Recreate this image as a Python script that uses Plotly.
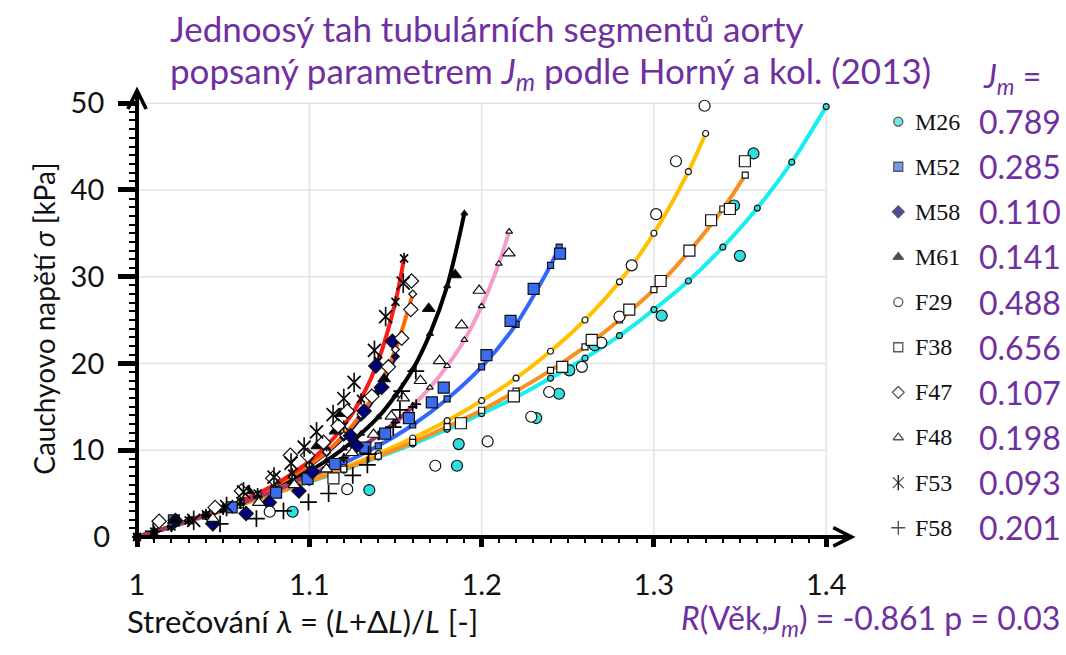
import plotly.graph_objects as go

W, H = 1066, 655
PURPLE = "#7030A0"
SANS = "Lato, 'Open Sans', sans-serif"
SERIF = "'Liberation Serif', 'DejaVu Serif', serif"

# frame of the stress-stretch plot, in page pixels
FX0, FX1 = 130, 854      # left edge (lambda = 1) and arrow tip of the x axis
FY0, FY1 = 550, 87       # y = 0 and arrow tip of the y axis
PX_PER_LAM = 1736.0
PX_PER_KPA = 8.92
LAM_RANGE = [1.0, 1.0 + (FX1 - FX0) / PX_PER_LAM]
SIG_RANGE = [0.0, (FY0 - FY1) / PX_PER_KPA]

x_ticks = [1.0, 1.1, 1.2, 1.3, 1.4]
x_tick_text = ["1", "1.1", "1.2", "1.3", "1.4"]
y_ticks = [10, 20, 30, 40, 50]
x_minor = [round(1.0 + 0.01 * i, 2) for i in range(1, 42) if i % 10]
y_minor = [v for v in range(1, 51) if v % 10]

names = ["M26", "M52", "M58", "M61", "F29", "F38", "F47", "F48", "F53", "F58"]
jm_text = ["0.789", "0.285", "0.110", "0.141", "0.488", "0.656", "0.107", "0.198", "0.093", "0.201"]

# fitted (Gent) curves: stretch grid and Cauchy stress [kPa]
fit_lam = {
    "M26": [1.00, 1.02, 1.04, 1.06, 1.08, 1.10, 1.12, 1.14, 1.16, 1.18, 1.20, 1.22, 1.24, 1.26, 1.28, 1.30, 1.32, 1.34, 1.36, 1.38, 1.40],
    "M52": [1.00, 1.02, 1.04, 1.06, 1.08, 1.10, 1.12, 1.14, 1.16, 1.18, 1.20, 1.22, 1.24, 1.245],
    "M58": [1.00, 1.01, 1.02, 1.03, 1.04, 1.05, 1.06, 1.07, 1.08, 1.09, 1.10, 1.11, 1.12, 1.13, 1.14, 1.15],
    "M61": [1.00, 1.01, 1.02, 1.03, 1.04, 1.05, 1.06, 1.07, 1.08, 1.09, 1.10, 1.11, 1.12, 1.13, 1.14, 1.15, 1.16, 1.17, 1.18, 1.19],
    "F29": [1.00, 1.02, 1.04, 1.06, 1.08, 1.10, 1.12, 1.14, 1.16, 1.18, 1.20, 1.22, 1.24, 1.26, 1.28, 1.30, 1.32, 1.33],
    "F38": [1.00, 1.02, 1.04, 1.06, 1.08, 1.10, 1.12, 1.14, 1.16, 1.18, 1.20, 1.22, 1.24, 1.26, 1.28, 1.30, 1.32, 1.34, 1.353],
    "F47": [1.00, 1.01, 1.02, 1.03, 1.04, 1.05, 1.06, 1.07, 1.08, 1.09, 1.10, 1.11, 1.12, 1.13, 1.14, 1.15, 1.16],
    "F48": [1.00, 1.01, 1.02, 1.03, 1.04, 1.05, 1.06, 1.07, 1.08, 1.09, 1.10, 1.11, 1.12, 1.13, 1.14, 1.15, 1.16, 1.17, 1.18, 1.19, 1.20, 1.21, 1.216],
    "F53": [1.00, 1.01, 1.02, 1.03, 1.04, 1.05, 1.06, 1.07, 1.08, 1.09, 1.10, 1.11, 1.12, 1.13, 1.14, 1.15, 1.155],
    "F58": [1.00, 1.01, 1.02, 1.03, 1.04, 1.05, 1.06, 1.07, 1.08, 1.09, 1.10, 1.11, 1.12, 1.13, 1.14, 1.15, 1.16, 1.162],
}
fit_sig = {
    "M26": [0, 1.2, 2.4, 3.7, 5.0, 6.3, 7.7, 9.2, 10.7, 12.4, 14.2, 16.1, 18.3, 20.6, 23.2, 26.2, 29.5, 33.4, 37.9, 43.2, 49.6],
    "M52": [0, 1.2, 2.5, 3.8, 5.2, 6.7, 8.5, 10.5, 12.9, 15.9, 19.6, 24.5, 31.3, 33.4],
    "M58": [0, 0.6, 1.2, 1.9, 2.5, 3.2, 4.0, 4.9, 5.8, 6.9, 8.2, 9.7, 11.5, 13.8, 16.8, 20.8],
    "M61": [0, 0.6, 1.2, 1.9, 2.5, 3.2, 3.9, 4.7, 5.6, 6.5, 7.6, 8.8, 10.2, 11.9, 13.8, 16.3, 19.3, 23.4, 28.9, 37.3],
    "F29": [0, 1.2, 2.4, 3.7, 5.0, 6.5, 8.0, 9.6, 11.4, 13.4, 15.7, 18.3, 21.4, 25.0, 29.4, 35.0, 42.1, 46.5],
    "F38": [0, 1.2, 2.4, 3.7, 5.0, 6.4, 7.8, 9.3, 10.9, 12.7, 14.6, 16.8, 19.2, 21.9, 25.0, 28.5, 32.8, 37.8, 41.7],
    "F47": [0, 0.6, 1.2, 1.9, 2.5, 3.3, 4.0, 4.9, 5.9, 7.0, 8.3, 9.8, 11.7, 14.1, 17.2, 21.6, 28.0],
    "F48": [0, 0.6, 1.2, 1.8, 2.5, 3.1, 3.8, 4.6, 5.4, 6.2, 7.1, 8.1, 9.2, 10.4, 11.7, 13.3, 15.1, 17.2, 19.7, 22.7, 26.6, 31.5, 35.2],
    "F53": [0, 0.6, 1.2, 1.9, 2.6, 3.3, 4.1, 5.0, 6.0, 7.3, 8.7, 10.5, 12.8, 15.9, 20.3, 27.1, 32.1],
    "F58": [0, 0.6, 1.2, 1.8, 2.5, 3.1, 3.8, 4.6, 5.3, 6.2, 7.1, 8.0, 9.1, 10.3, 11.7, 13.2, 15.0, 15.3],
}

# measured points
exp_lam = {
    "M26": [1.0903, 1.1348, 1.1857, 1.1867, 1.2317, 1.2449, 1.2509, 1.2656, 1.3045, 1.3499, 1.3465, 1.3578],
    "M52": [1.0214, 1.0549, 1.0807, 1.0990, 1.1148, 1.1325, 1.1440, 1.1578, 1.1711, 1.1780, 1.2028, 1.2168, 1.2302, 1.2455],
    "M58": [1.0223, 1.0440, 1.0633, 1.0767, 1.0940, 1.1018, 1.1239, 1.1273, 1.1318, 1.1420, 1.1386, 1.1482],
    "M61": [1.0220, 1.0645, 1.1047, 1.1152, 1.1183, 1.1434, 1.1693, 1.1846],
    "F29": [1.0770, 1.1220, 1.1731, 1.2035, 1.2288, 1.2392, 1.2582, 1.2695, 1.2800, 1.2871, 1.3013, 1.3128, 1.3294],
    "F38": [1.1140, 1.1880, 1.2187, 1.2468, 1.2639, 1.2857, 1.3039, 1.3206, 1.3332, 1.3441, 1.3528],
    "F47": [1.0128, 1.0453, 1.0606, 1.0788, 1.0890, 1.0990, 1.1082, 1.1167, 1.1220, 1.1363, 1.1459, 1.1536, 1.1589, 1.1593],
    "F48": [1.0440, 1.0707, 1.0913, 1.1099, 1.1248, 1.1373, 1.1476, 1.1545, 1.1645, 1.1756, 1.1884, 1.1986, 1.2158],
    "F53": [1.0329, 1.0520, 1.0618, 1.0795, 1.0894, 1.0970, 1.1042, 1.1138, 1.1200, 1.1260, 1.1378, 1.1443, 1.1545],
    "F58": [1.0094, 1.0482, 1.0693, 1.0850, 1.0995, 1.1112, 1.1252, 1.1337, 1.1344, 1.1487, 1.1526, 1.1536, 1.1618],
}
exp_sig = {
    "M26": [2.9, 5.4, 8.2, 10.7, 13.7, 16.5, 19.2, 22.1, 25.5, 32.4, 38.2, 44.2],
    "M52": [1.9, 3.4, 5.1, 6.7, 8.4, 10.3, 11.9, 13.7, 15.5, 17.2, 20.95, 24.9, 28.6, 32.65],
    "M58": [1.9, 1.5, 2.7, 3.95, 5.3, 7.5, 11.65, 10.5, 14.5, 17.25, 19.7, 22.55],
    "M61": [1.9, 5.3, 10.5, 12.2, 14.2, 18.2, 26.3, 30.2],
    "F29": [2.9, 5.5, 8.2, 11.0, 13.85, 16.7, 19.6, 22.4, 25.4, 31.3, 37.2, 43.3, 49.7],
    "F38": [6.75, 13.1, 16.2, 19.6, 22.7, 26.2, 29.5, 33.0, 36.5, 37.8, 43.3],
    "F47": [1.8, 3.4, 5.3, 6.75, 9.4, 9.4, 10.9, 12.8, 14.5, 16.2, 19.6, 22.9, 26.2, 29.5],
    "F48": [2.1, 3.95, 6.0, 7.8, 9.7, 11.8, 13.9, 16.0, 18.0, 20.3, 24.4, 28.4, 32.7],
    "F53": [1.9, 3.5, 5.2, 6.9, 8.5, 10.35, 12.1, 14.1, 15.95, 17.8, 21.5, 25.4, 29.25],
    "F58": [0.65, 1.5, 2.1, 3.0, 4.0, 5.0, 7.1, 8.3, 9.55, 12.65, 14.65, 16.8, 19.1],
}

curve_color = {
    "M26": "#18EEEE", "M52": "#3366FF", "M58": "#000080", "M61": "#000000",
    "F29": "#FFC000", "F38": "#F7901E", "F47": "#FF6A00", "F48": "#F79BCB",
    "F53": "#FF1A1A", "F58": "#A0386E",
}
symbol = {
    "M26": "circle", "M52": "square", "M58": "diamond", "M61": "triangle-up",
    "F29": "circle", "F38": "square", "F47": "diamond", "F48": "triangle-up",
    "F53": "x-thin-open", "F58": "cross-thin-open",
}
fill = {
    "M26": "#33DDDD", "M52": "#3A6CF0", "M58": "#00007A", "M61": "#000000",
    "F29": "#FFFFFF", "F38": "#FFFFFF", "F47": "#FFFFFF", "F48": "#FFFFFF",
    "F53": "#000000", "F58": "#000000",
}
# thin symbols are drawn a little larger than the filled ones
size_boost = {"F53": 2, "F58": 1}


def marker_style(name, size):
    thin = symbol[name].endswith("-open")
    return dict(symbol=symbol[name], size=size + size_boost.get(name, 0), color=fill[name],
                line=dict(color="#111111", width=1.7 if thin else 1.2))


fig = go.Figure()

# fitted curves
for n in names:
    fig.add_trace(go.Scatter(
        x=fit_lam[n], y=fit_sig[n], mode="lines", name=n, showlegend=False,
        line=dict(color=curve_color[n], width=4, shape="spline", smoothing=0.8),
        cliponaxis=False, hoverinfo="skip"))

# model points on the curves (small markers)
for n in names:
    fig.add_trace(go.Scatter(
        x=fit_lam[n], y=fit_sig[n], mode="markers", showlegend=False,
        marker=marker_style(n, 6), cliponaxis=False, hoverinfo="skip"))
    if n == "F53":
        fig.add_trace(go.Scatter(
            x=fit_lam[n], y=fit_sig[n], mode="markers", showlegend=False,
            marker=dict(symbol="line-ns-open", size=8, color="#111111",
                        line=dict(color="#111111", width=1.7)),
            cliponaxis=False, hoverinfo="skip"))

# measured points (large markers)
for n in names:
    fig.add_trace(go.Scatter(
        x=exp_lam[n], y=exp_sig[n], mode="markers", name=n, showlegend=False,
        marker=marker_style(n, 11), cliponaxis=False))
    if n == "F53":
        fig.add_trace(go.Scatter(
            x=exp_lam[n], y=exp_sig[n], mode="markers", showlegend=False,
            marker=dict(symbol="line-ns-open", size=14, color="#111111",
                        line=dict(color="#111111", width=1.7)),
            cliponaxis=False, hoverinfo="skip"))

# key on the right, drawn on a page-pixel axis pair
KEY_X, KEY_Y0, KEY_DY = 897, 123, 46.4
key_y = [KEY_Y0 + KEY_DY * i for i in range(len(names))]
fig.add_trace(go.Scatter(
    x=[KEY_X] * len(names), y=key_y, mode="markers", xaxis="x2", yaxis="y2",
    showlegend=False, hoverinfo="skip", cliponaxis=False,
    marker=dict(symbol=[symbol[n] for n in names], size=[9 + size_boost.get(n, 0) for n in names],
                color=[fill[n] for n in names],
                line=dict(color="#111111", width=1.3))))
fig.add_trace(go.Scatter(
    x=[KEY_X], y=[key_y[names.index("F53")]], mode="markers", xaxis="x2", yaxis="y2",
    showlegend=False, hoverinfo="skip", cliponaxis=False,
    marker=dict(symbol="line-ns-open", size=11, color="#111111",
                line=dict(color="#111111", width=1.3))))
fig.add_trace(go.Scatter(x=[None], y=[None], yaxis="y3", showlegend=False, hoverinfo="skip"))


def px(xp):
    return xp / W


def py(yp):
    return 1 - yp / H


annotations = []
for i, n in enumerate(names):
    annotations.append(dict(x=px(912), y=py(key_y[i]), xref="paper", yref="paper", text=n,
                            showarrow=False, xanchor="left", yanchor="middle",
                            font=dict(family=SERIF, size=24, color="#111111")))
    annotations.append(dict(x=px(976), y=py(key_y[i]), xref="paper", yref="paper", text=jm_text[i],
                            showarrow=False, xanchor="left", yanchor="middle",
                            font=dict(family=SANS, size=32, color=PURPLE)))

annotations += [
    dict(x=px(161), y=py(27), xref="paper", yref="paper", xanchor="left", yanchor="middle",
         text="Jednoosý tah tubulárních segmentů aorty", showarrow=False,
         font=dict(family=SANS, size=35, color=PURPLE)),
    dict(x=px(161), y=py(72), xref="paper", yref="paper", xanchor="left", yanchor="middle",
         text="popsaný parametrem <i>J<sub>m</sub></i> podle Horný a kol. (2013)", showarrow=False,
         font=dict(family=SANS, size=35, color=PURPLE)),
    dict(x=px(1012), y=py(78), xref="paper", yref="paper", xanchor="center", yanchor="middle",
         text="<i>J<sub>m</sub></i> =", showarrow=False,
         font=dict(family=SANS, size=32, color=PURPLE)),
    dict(x=px(36), y=py(326), xref="paper", yref="paper", xanchor="center", yanchor="middle",
         text="Cauchyovo napětí <i>σ</i> [kPa]", textangle=-90, showarrow=False,
         font=dict(family=SANS, size=28, color="#111111")),
    dict(x=px(118), y=py(636), xref="paper", yref="paper", xanchor="left", yanchor="middle",
         text="Strečování <i>λ</i> = (<i>L</i>+Δ<i>L</i>)/<i>L</i> [-]", showarrow=False,
         font=dict(family=SANS, size=31, color="#111111")),
    dict(x=px(1062), y=py(635), xref="paper", yref="paper", xanchor="right", yanchor="middle",
         text="<i>R</i>(Věk,<i>J<sub>m</sub></i>) = -0.861 p = 0.03", showarrow=False,
         font=dict(family=SANS, size=32, color=PURPLE)),
    # axis lines with arrow heads
    dict(x=LAM_RANGE[1], y=0, ax=LAM_RANGE[0] - 3 / PX_PER_LAM, ay=0,
         xref="x", yref="y", axref="x", ayref="y", text="", showarrow=True,
         arrowhead=5, arrowsize=0.9, arrowwidth=4, arrowcolor="#000000"),
    dict(x=LAM_RANGE[0], y=SIG_RANGE[1], ax=LAM_RANGE[0], ay=-4 / PX_PER_KPA,
         xref="x", yref="y", axref="x", ayref="y", text="", showarrow=True,
         arrowhead=5, arrowsize=0.9, arrowwidth=4, arrowcolor="#000000"),
]

# light grid, bounded by the last labelled tick
shapes = []
for xv in x_ticks[1:]:
    shapes.append(dict(type="line", xref="x", yref="y", x0=xv, x1=xv, y0=0, y1=y_ticks[-1],
                       line=dict(color="#E4E4E4", width=1.5), layer="below"))
for yv in y_ticks:
    shapes.append(dict(type="line", xref="x", yref="y", x0=x_ticks[0], x1=x_ticks[-1], y0=yv, y1=yv,
                       line=dict(color="#E4E4E4", width=1.5), layer="below"))

tick_font = dict(family=SANS, size=29, color="#111111")
fig.update_layout(
    width=W, height=H, margin=dict(l=0, r=0, t=0, b=0),
    paper_bgcolor="white", plot_bgcolor="rgba(0,0,0,0)",
    showlegend=False, annotations=annotations, shapes=shapes,
    xaxis=dict(domain=[FX0 / W, FX1 / W], range=LAM_RANGE, showgrid=False, zeroline=False,
               showline=False, tickmode="array", tickvals=x_ticks, ticktext=x_tick_text,
               ticks="outside", ticklen=9, tickwidth=5, tickcolor="#000000",
               ticklabelstandoff=13, tickfont=tick_font,
               minor=dict(tickmode="array", tickvals=x_minor, ticks="outside", ticklen=5,
                          tickwidth=1.5, tickcolor="#000000", showgrid=False)),
    yaxis=dict(domain=[1 - FY0 / H, 1 - FY1 / H], range=SIG_RANGE, showgrid=False, zeroline=False,
               showline=False, tickmode="array", tickvals=y_ticks,
               ticks="outside", ticklen=18, tickwidth=5, tickcolor="#000000",
               ticklabelstandoff=8, tickfont=tick_font,
               minor=dict(tickmode="array", tickvals=y_minor, ticks="outside", ticklen=7,
                          tickwidth=1.5, tickcolor="#000000", showgrid=False)),
    yaxis3=dict(overlaying="y", anchor="x", side="left", range=SIG_RANGE, showgrid=False,
                zeroline=False, showline=False, tickmode="array", tickvals=[0], ticktext=["0"],
                ticks="", ticklabelstandoff=26, tickfont=tick_font),
    xaxis2=dict(domain=[0, 1], range=[0, W], visible=False, anchor="y2"),
    yaxis2=dict(domain=[0, 1], range=[H, 0], visible=False, anchor="x2"),
)

fig.write_html("out.html")
